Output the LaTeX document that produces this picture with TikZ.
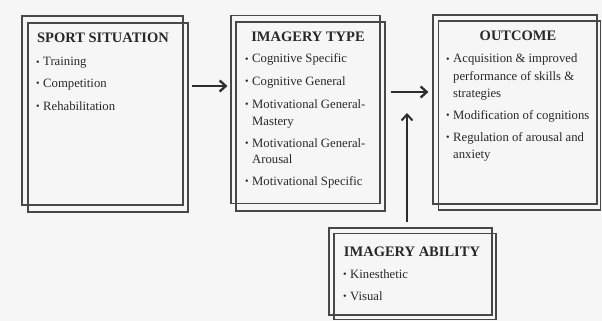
\documentclass[tikz,border=0pt]{standalone}
\usepackage{fontspec}
\setmainfont{Liberation Serif}
\usetikzlibrary{arrows.meta}
\definecolor{bgc}{RGB}{246,246,246}
\definecolor{linec}{RGB}{72,72,72}
\definecolor{txtc}{RGB}{40,40,40}
\definecolor{arrc}{RGB}{45,45,45}
\newcommand\bl{\makebox[7pt][l]{\fontsize{10}{10}\selectfont\raisebox{0.3pt}{•}}}
\newcommand\ind{\hspace*{7pt}}
\tikzset{
  frame/.style={draw=linec, line width=1.2pt, rectangle, inner sep=0pt},
  ttl/.style={anchor=base, inner sep=0pt, text=txtc, font=\fontsize{14.5}{17}\selectfont\bfseries},
  itm/.style={anchor=base west, inner sep=0pt, text=txtc, font=\fontsize{12.7}{17}\selectfont},
  arr/.style={draw=arrc, line width=2.3pt, -{Straight Barb[length=6pt,width=11pt]}}
}
\begin{document}
\begin{tikzpicture}[x=1pt,y=-1pt]
\fill[bgc] (0,0) rectangle (602,321);
\useasboundingbox (0,0) rectangle (602,321);
% frames
\node[frame, minimum width=161, minimum height=189] (sitA) at (102.5,110.5) {};
\node[frame, minimum width=160, minimum height=189] (sitB) at (108,117.5) {};
\node[frame, minimum width=149, minimum height=188] (typA) at (305.5,109.5) {};
\node[frame, minimum width=149, minimum height=189] (typB) at (310.5,116.5) {};
\node[frame, minimum width=164, minimum height=189] (outA) at (515,109.5) {};
\node[frame, minimum width=162.5, minimum height=189] (outB) at (519.5,115.5) {};
\node[frame, minimum width=163, minimum height=87] (ablA) at (410.5,271.5) {};
\node[frame, minimum width=162, minimum height=86.5] (ablB) at (415,276.5) {};
% titles
\node[ttl] (sitT) at (103,43) {SPORT SITUATION};
\node[ttl] (typT) at (308,42) {IMAGERY TYPE};
\node[ttl] (outT) at (518,40.5) {OUTCOME};
\node[ttl] (ablT) at (412,256) {IMAGERY ABILITY};
% items
\foreach \y/\t [count=\i] in {66/{\bl Training}, 87/{\bl Competition}, 110/{\bl Rehabilitation}}
  \node[itm] (sitI\i) at (36,\y) {\t};
\foreach \y/\t [count=\i] in {63/{\bl Cognitive Specific}, 85/{\bl Cognitive General},
   108/{\bl Motivational General-}, 125/{\ind Mastery},
   147/{\bl Motivational General-}, 163/{\ind Arousal}, 185/{\bl Motivational Specific}}
  \node[itm] (typI\i) at (245,\y) {\t};
\foreach \y/\t [count=\i] in {63/{\bl Acquisition \& improved}, 80/{\ind performance of skills \&},
   97/{\ind strategies}, 119/{\bl Modification of cognitions},
   141/{\bl Regulation of arousal and}, 158/{\ind anxiety}}
  \node[itm] (outI\i) at (446,\y) {\t};
\foreach \y/\t [count=\i] in {278/{\bl Kinesthetic}, 300/{\bl Visual}}
  \node[itm] (ablI\i) at (343,\y) {\t};
% connectors
\coordinate (h1) at (0,86);
\coordinate (h2) at (0,92);
\coordinate (vt) at (407,113);
\draw[arr, shorten <=3pt, shorten >=3pt] (sitB.east |- h1) -- (typA.west |- h1);
\draw[arr, shorten <=5pt, shorten >=4pt] (typB.east |- h2) -- (outA.west |- h2);
\draw[arr, line width=2pt, shorten <=5pt] (ablA.north -| vt) -- (vt);
\end{tikzpicture}
\end{document}
